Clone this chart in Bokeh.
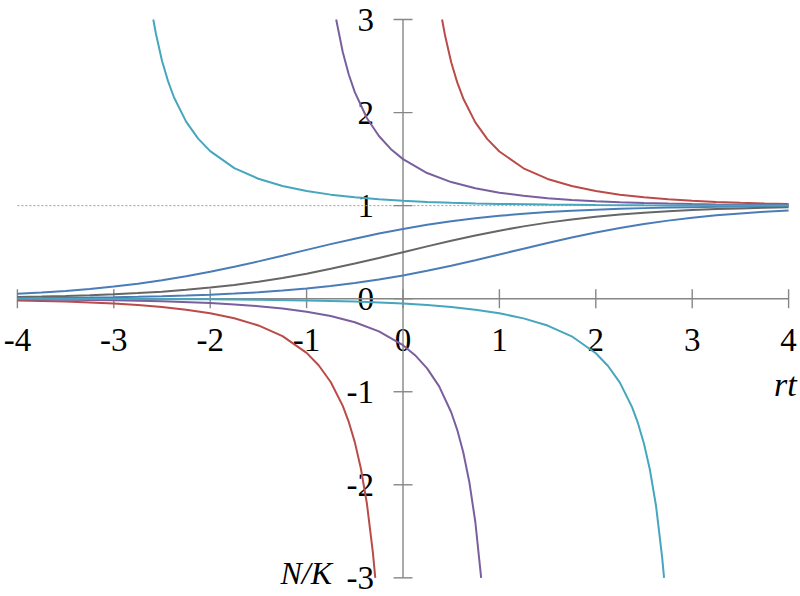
import math
from bokeh.plotting import figure
from bokeh.models import Range1d
from bokeh.embed import file_html
from bokeh.resources import INLINE
from bokeh.core.properties import value

# ---------------- data ----------------
t_grid = [-4.0, -3.75, -3.5, -3.25, -3.0, -2.75, -2.5, -2.25, -2.0, -1.75, -1.5, -1.25,
          -1.0, -0.75, -0.5, -0.25, 0.0, 0.25, 0.5, 0.75, 1.0, 1.25, 1.5, 1.75, 2.0,
          2.25, 2.5, 2.75, 3.0, 3.25, 3.5, 3.75, 4.0]

n_mid = [0.0180, 0.0230, 0.0293, 0.0373, 0.0474, 0.0601, 0.0759, 0.0954, 0.1192, 0.1480,
         0.1824, 0.2227, 0.2689, 0.3208, 0.3775, 0.4378, 0.5, 0.5622, 0.6225, 0.6792,
         0.7311, 0.7773, 0.8176, 0.8520, 0.8808, 0.9047, 0.9241, 0.9399, 0.9526, 0.9627,
         0.9707, 0.9770, 0.9820]

n_blue_hi = [0.0521, 0.0659, 0.0831, 0.1042, 0.1300, 0.1609, 0.1976, 0.2402, 0.2888, 0.3427,
             0.4010, 0.4622, 0.5246, 0.5863, 0.6453, 0.7003, 0.75, 0.7939, 0.8318, 0.8640,
             0.8908, 0.9128, 0.9308, 0.9452, 0.9568, 0.9661, 0.9734, 0.9791, 0.9837, 0.9872,
             0.9900, 0.9922, 0.9939]

n_blue_lo = [0.0061, 0.0078, 0.0100, 0.0128, 0.0163, 0.0209, 0.0266, 0.0339, 0.0432, 0.0548,
             0.0692, 0.0872, 0.1092, 0.1360, 0.1682, 0.2061, 0.25, 0.2997, 0.3547, 0.4137,
             0.4754, 0.5378, 0.5990, 0.6573, 0.7112, 0.7598, 0.8024, 0.8391, 0.8700, 0.8958,
             0.9169, 0.9341, 0.9479]

t_red_up = [0.4055, 0.4375, 0.5, 0.5625, 0.625, 0.75, 0.875, 1.0, 1.25, 1.5, 1.75, 2.0,
            2.25, 2.5, 2.75, 3.0, 3.25, 3.5, 3.75, 4.0]
n_red_up = [3.0, 2.8222, 2.5413, 2.3245, 2.1519, 1.8953, 1.7150, 1.5820, 1.4015, 1.2872,
            1.2104, 1.1565, 1.1178, 1.0894, 1.0683, 1.0524, 1.0404, 1.0311, 1.0241, 1.0187]

t_pur_up = [-0.6931, -0.625, -0.5625, -0.5, -0.375, -0.25, -0.125, 0.0, 0.25, 0.5, 0.75,
            1.0, 1.25, 1.5, 1.75, 2.0, 2.25, 2.5, 2.75, 3.0, 3.25, 3.5, 3.75, 4.0]
n_pur_up = [3.0, 2.6507, 2.4096, 2.2201, 1.9417, 1.7483, 1.6070, 1.5, 1.3506, 1.2534, 1.1869,
            1.1398, 1.1056, 1.0803, 1.0615, 1.0472, 1.0364, 1.0281, 1.0218, 1.0169, 1.0131,
            1.0102, 1.0079, 1.0061]

t_teal_up = [-2.5903, -2.5625, -2.5, -2.4375, -2.375, -2.25, -2.125, -2.0, -1.75, -1.5,
             -1.25, -1.0, -0.75, -0.5, -0.25, 0.0, 0.25, 0.5, 0.75, 1.0, 1.5, 2.0, 2.5,
             3.0, 3.5, 4.0]
n_teal_up = [3.0, 2.8441, 2.5582, 2.3380, 2.1624, 1.9025, 1.7201, 1.5859, 1.4040, 1.2888,
             1.2114, 1.1573, 1.1184, 1.0898, 1.0686, 1.0526, 1.0405, 1.0313, 1.0242, 1.0187,
             1.0113, 1.0068, 1.0041, 1.0025, 1.0015, 1.0009]

t_red_lo = [-4.0, -3.5, -3.0, -2.75, -2.5, -2.25, -2.0, -1.75, -1.5, -1.25, -1.0, -0.875,
            -0.75, -0.625, -0.5625, -0.5, -0.4375, -0.375, -0.3125, -0.2877]
n_red_lo = [-0.0187, -0.0311, -0.0524, -0.0683, -0.0894, -0.1178, -0.1565, -0.2103, -0.2872,
            -0.4016, -0.5820, -0.7149, -0.8953, -1.1518, -1.3245, -1.5415, -1.8222, -2.1978,
            -2.7263, -3.0]

t_pur_lo = [-4.0, -3.5, -3.0, -2.5, -2.0, -1.75, -1.5, -1.25, -1.0, -0.75, -0.5, -0.25,
            0.0, 0.125, 0.25, 0.375, 0.5, 0.5625, 0.625, 0.6875, 0.75, 0.8109]
n_pur_lo = [-0.0061, -0.0102, -0.0169, -0.0281, -0.0472, -0.0615, -0.0803, -0.1056, -0.1398,
            -0.1869, -0.2534, -0.3506, -0.5, -0.6070, -0.7483, -0.9417, -1.2203, -1.4096,
            -1.6504, -1.9666, -2.3969, -3.0]

t_teal_lo = [-4.0, -3.0, -2.0, -1.5, -1.0, -0.5, 0.0, 0.25, 0.5, 0.75, 1.0, 1.25, 1.5, 1.75,
             2.0, 2.125, 2.25, 2.375, 2.4375, 2.5, 2.5625, 2.625, 2.6875, 2.7081]
n_teal_lo = [-0.0009, -0.0025, -0.0068, -0.0113, -0.0187, -0.0313, -0.0526, -0.0686, -0.0898,
             -0.1184, -0.1573, -0.2114, -0.2888, -0.4040, -0.5859, -0.7201, -0.9025, -1.1624,
             -1.3380, -1.5582, -1.8442, -2.2282, -2.7716, -3.0]

x_ticks = [-4, -3, -2, -1, 0, 1, 2, 3, 4]
x_labels = ["-4", "-3", "-2", "-1", "0", "1", "2", "3", "4"]
y_ticks = [-3, -2, -1, 0, 1, 2, 3]
y_labels = ["-3", "-2", "-1", "0", "1", "2", "3"]
carrying_level = 1

# ---------------- styling ----------------
TEAL = "#45A6BE"
PURPLE = "#7A5F9E"
RED = "#BB4B48"
BLUE = "#4A7CB8"
GRAY = "#666666"
AXIS = "#868686"
FONT = value("Liberation Serif")

W, H = 800, 596
# pixel geometry of the frame (canvas coords)
X0_PX, SX = 402.5, 96.4
Y0_PX, SY = 298.2, 93.05

p = figure(width=W, height=H,
           x_range=Range1d(-X0_PX / SX, (W - X0_PX) / SX),
           y_range=Range1d(-(H - Y0_PX) / SY, Y0_PX / SY),
           output_backend="svg", toolbar_location=None,
           x_axis_type=None, y_axis_type=None, min_border=0)
p.outline_line_color = None
p.background_fill_color = "white"
p.border_fill_color = "white"

# tick labels
p.text(x=x_ticks, y=[0] * len(x_ticks), text=x_labels, text_font=FONT,
       text_font_size="33px", text_align="center", text_baseline="middle",
       y_offset=41, text_color="black")
p.text(x=[0] * len(y_ticks), y=y_ticks, text=y_labels, text_font=FONT,
       text_font_size="33px", text_align="right", text_baseline="middle",
       x_offset=-29, text_color="black")
p.text(x=[x_ticks[-1]], y=[0], text=["rt"], text_font=FONT, text_font_style="italic",
       text_font_size="34px", text_align="right", text_baseline="alphabetic",
       x_offset=8, y_offset=86, text_color="black")
p.text(x=[0], y=[y_ticks[0]], text=["N/K"], text_font=FONT, text_font_style="italic",
       text_font_size="32px", text_align="right", text_baseline="middle",
       x_offset=-71, y_offset=-5, text_color="black")

# dotted carrying-capacity line
p.line(x=[x_ticks[0], x_ticks[-1]], y=[carrying_level, carrying_level],
       line_color="#9A9A9A", line_width=1, line_dash="2 2")

# axes through origin
p.line(x=[x_ticks[0], x_ticks[-1]], y=[0, 0], line_color=AXIS, line_width=1.4)
p.line(x=[0, 0], y=[y_ticks[0], y_ticks[-1]], line_color=AXIS, line_width=1.4)
p.scatter(x=x_ticks, y=[0] * len(x_ticks), marker="dash", size=19, angle=math.pi / 2,
          line_color=AXIS, line_width=1.4)
p.scatter(x=[0] * len(y_ticks), y=y_ticks, marker="dash", size=19,
          line_color=AXIS, line_width=1.4)

LW = 2
p.line(t_grid, n_blue_hi, line_color=BLUE, line_width=LW)
p.line(t_grid, n_mid, line_color=GRAY, line_width=LW)
p.line(t_grid, n_blue_lo, line_color=BLUE, line_width=LW)
p.line(t_red_up, n_red_up, line_color=RED, line_width=LW)
p.line(t_pur_up, n_pur_up, line_color=PURPLE, line_width=LW)
p.line(t_teal_up, n_teal_up, line_color=TEAL, line_width=LW)
p.line(t_red_lo, n_red_lo, line_color=RED, line_width=LW)
p.line(t_pur_lo, n_pur_lo, line_color=PURPLE, line_width=LW)
p.line(t_teal_lo, n_teal_lo, line_color=TEAL, line_width=LW)

open("out.html", "w").write(file_html(p, INLINE))
